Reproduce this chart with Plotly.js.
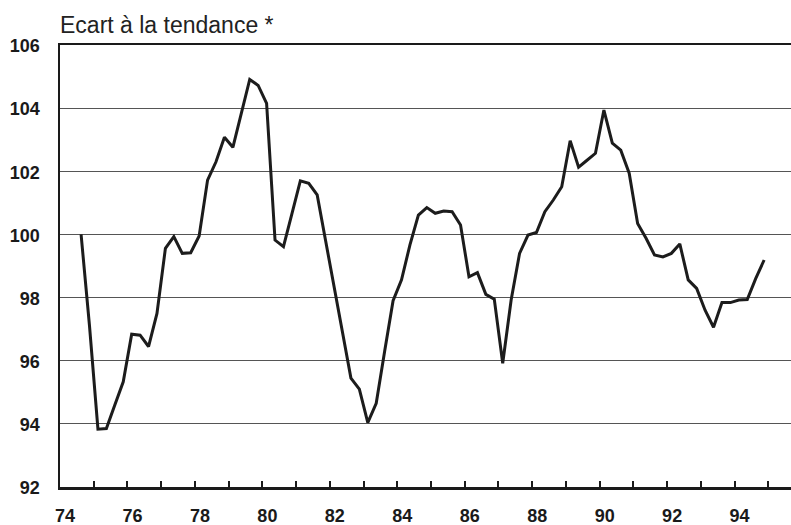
<!DOCTYPE html>
<html>
<head>
<meta charset="utf-8">
<script src="https://cdn.plot.ly/plotly-3.0.1.min.js"></script>
<style>
  html, body { margin: 0; padding: 0; background: #fff; }
  #chart { width: 791px; height: 525px; }
</style>
</head>
<body>
<div id="chart"></div>
<script>
// Quarterly series, first observation 1974 Q3, last 1994 Q4
const firstYear = 1974;
const firstQuarter = 3;
const values = [
  100.0, 97.1,                                   // 1974 Q3-Q4
  93.83, 93.85, 94.6, 95.33,                     // 1975
  96.84, 96.81, 96.45, 97.5,                     // 1976
  99.56, 99.93, 99.40, 99.42,                    // 1977
  99.95, 101.72, 102.30, 103.08,                 // 1978
  102.76, 103.8, 104.91, 104.72,                 // 1979
  104.15, 99.82, 99.61, 100.65,                  // 1980
  101.70, 101.62, 101.25, 99.8,                  // 1981
  98.4, 96.9, 95.45, 95.1,                       // 1982
  94.04, 94.65, 96.3, 97.9,                      // 1983
  98.56, 99.67, 100.61, 100.85,                  // 1984
  100.67, 100.74, 100.72, 100.30,                // 1985
  98.66, 98.79, 98.1, 97.95,                     // 1986
  95.92, 97.92, 99.40, 99.98,                    // 1987
  100.06, 100.72, 101.09, 101.51,                // 1988
  102.97, 102.13, 102.35, 102.57,                // 1989
  103.94, 102.89, 102.67, 101.94,                // 1990
  100.35, 99.88, 99.35, 99.29,                   // 1991
  99.40, 99.70, 98.56, 98.29,                    // 1992
  97.6, 97.06, 97.84, 97.84,                     // 1993
  97.92, 97.94, 98.6, 99.19                      // 1994
];
const tickYears = [1974,1975,1976,1977,1978,1979,1980,1981,1982,1983,1984,1985,1986,1987,1988,1989,1990,1991,1992,1993,1994,1995];
const tickLabels = ['74','','76','','78','','80','','82','','84','','86','','88','','90','','92','','94',''];
const yTicks = [92, 94, 96, 98, 100, 102, 104, 106];
const titleText = 'Ecart à la tendance *';

// time position of each quarter (middle of the quarter)
const xs = values.map((v, i) => {
  const qIndex = (firstQuarter - 1) + i;
  const year = firstYear + Math.floor(qIndex / 4);
  const q = (qIndex % 4) + 1;
  return year + (q - 0.5) / 4;
});

const trace = {
  x: xs,
  y: values,
  type: 'scatter',
  mode: 'lines',
  line: { color: '#1c1c1c', width: 3, shape: 'linear' },
  hoverinfo: 'x+y'
};

const layout = {
  width: 791,
  height: 525,
  margin: { l: 60, r: 0, t: 45, b: 38, pad: 0 },
  paper_bgcolor: '#ffffff',
  plot_bgcolor: '#ffffff',
  showlegend: false,
  font: { family: 'Liberation Sans, Arial, sans-serif', color: '#1a1a1a' },
  title: {
    text: titleText,
    font: { family: 'Liberation Sans, Arial, sans-serif', size: 23, color: '#222' },
    xref: 'container', yref: 'container',
    x: 60 / 791, xanchor: 'left',
    y: 1 - 25 / 525, yanchor: 'middle'
  },
  xaxis: {
    range: [1974, 1974 + 731 / 33.73],
    tickmode: 'array',
    tickvals: tickYears,
    ticktext: tickLabels,
    ticks: 'inside',
    ticklen: 6,
    tickwidth: 2,
    tickcolor: '#1a1a1a',
    showline: true,
    linecolor: '#1a1a1a',
    linewidth: 2.5,
    mirror: true,
    showgrid: false,
    zeroline: false,
    ticklabelstandoff: 11,
    ticklabelshift: 5,
    tickfont: { family: 'Liberation Sans, Arial, sans-serif', size: 18, color: '#1a1a1a', weight: 'bold' },
    fixedrange: true
  },
  yaxis: {
    range: [92, 106],
    tickmode: 'array',
    tickvals: yTicks,
    ticktext: yTicks.map(String),
    ticks: '',
    showline: true,
    linecolor: '#1a1a1a',
    linewidth: 2.5,
    showgrid: true,
    gridcolor: '#555555',
    gridwidth: 1,
    zeroline: false,
    ticklabelstandoff: 14,
    ticklabelshift: 1,
    tickfont: { family: 'Liberation Sans, Arial, sans-serif', size: 18, color: '#1a1a1a', weight: 'bold' },
    fixedrange: true
  }
};

Plotly.newPlot('chart', [trace], layout, { displayModeBar: false, staticPlot: true });
</script>
</body>
</html>
